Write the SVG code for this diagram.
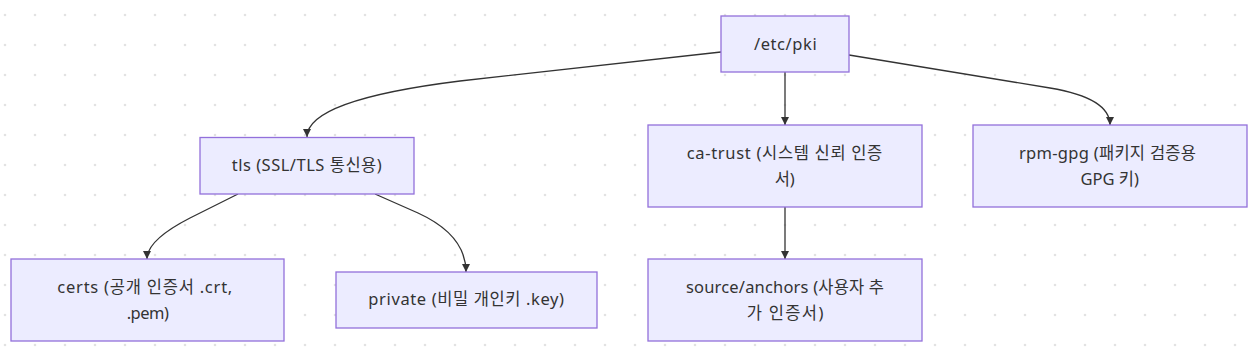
<svg xmlns="http://www.w3.org/2000/svg" width="1253" height="351" viewBox="0 0 1253 351">
<style>
.node rect{fill:#ECECFF;stroke:#9370DB;stroke-width:1.3}
.node text{font-family:"Noto Sans","Noto Sans CJK KR",sans-serif;font-size:16.5px;fill:#333;text-anchor:middle}
.edge{fill:none;stroke:#333;stroke-width:1.3}
</style>
<defs>
<pattern id="dots" x="0" y="0" width="30" height="30" patternUnits="userSpaceOnUse">
<circle cx="5" cy="15" r="1.3" fill="#e2e2e2"/>
</pattern>
<marker id="arrow" viewBox="0 0 10 10" refX="10" refY="5" markerWidth="8" markerHeight="8" markerUnits="userSpaceOnUse" orient="auto">
<path d="M0,0 L10,5 L0,10 z" fill="#333"/>
</marker>
</defs>
<rect width="1253" height="351" fill="#ffffff"/>
<rect width="1253" height="351" fill="url(#dots)"/>
<g id="edges">
<path class="edge" d="M721,52 L460,81 Q307,100 307,137" marker-end="url(#arrow)"/>
<path class="edge" d="M785,72 L785,125" marker-end="url(#arrow)"/>
<path class="edge" d="M849,55 L1050,88 Q1110,98 1110,125" marker-end="url(#arrow)"/>
<path class="edge" d="M238,194 L190,218 Q147,240 147,259" marker-end="url(#arrow)"/>
<path class="edge" d="M375,194 L418,213 Q466,235 466,272" marker-end="url(#arrow)"/>
<path class="edge" d="M785,207 L785,259" marker-end="url(#arrow)"/>
</g>
<g id="pki" class="node">
<rect x="721" y="16" width="128" height="56"/>
<text x="785.3" y="50" textLength="62.7">/etc/pki</text>
</g>
<g id="tls" class="node">
<rect x="200" y="137.5" width="214" height="56.5"/>
<text x="306.7" y="171" textLength="150">tls (SSL/TLS 통신용)</text>
</g>
<g id="catrust" class="node">
<rect x="648" y="125" width="274" height="82"/>
<text x="784.5" y="159" textLength="195.6">ca-trust (시스템 신뢰 인증</text>
<text x="784.7" y="185">서)</text>
</g>
<g id="rpmgpg" class="node">
<rect x="973" y="125" width="274" height="82"/>
<text x="1107.5" y="159" textLength="177">rpm-gpg (패키지 검증용</text>
<text x="1109.7" y="185">GPG 키)</text>
</g>
<g id="certs" class="node">
<rect x="11" y="259" width="273" height="82"/>
<text x="144.8" y="293" textLength="175">certs (공개 인증서 .crt,</text>
<text x="147.8" y="319" textLength="42.3">.pem)</text>
</g>
<g id="private" class="node">
<rect x="336" y="272" width="261" height="56"/>
<text x="466.2" y="305" textLength="195.7">private (비밀 개인키 .key)</text>
</g>
<g id="anchors" class="node">
<rect x="648" y="259" width="274" height="82"/>
<text x="785" y="293" textLength="198">source/anchors (사용자 추</text>
<text x="785" y="319" textLength="76.7">가 인증서)</text>
</g>
</svg>
